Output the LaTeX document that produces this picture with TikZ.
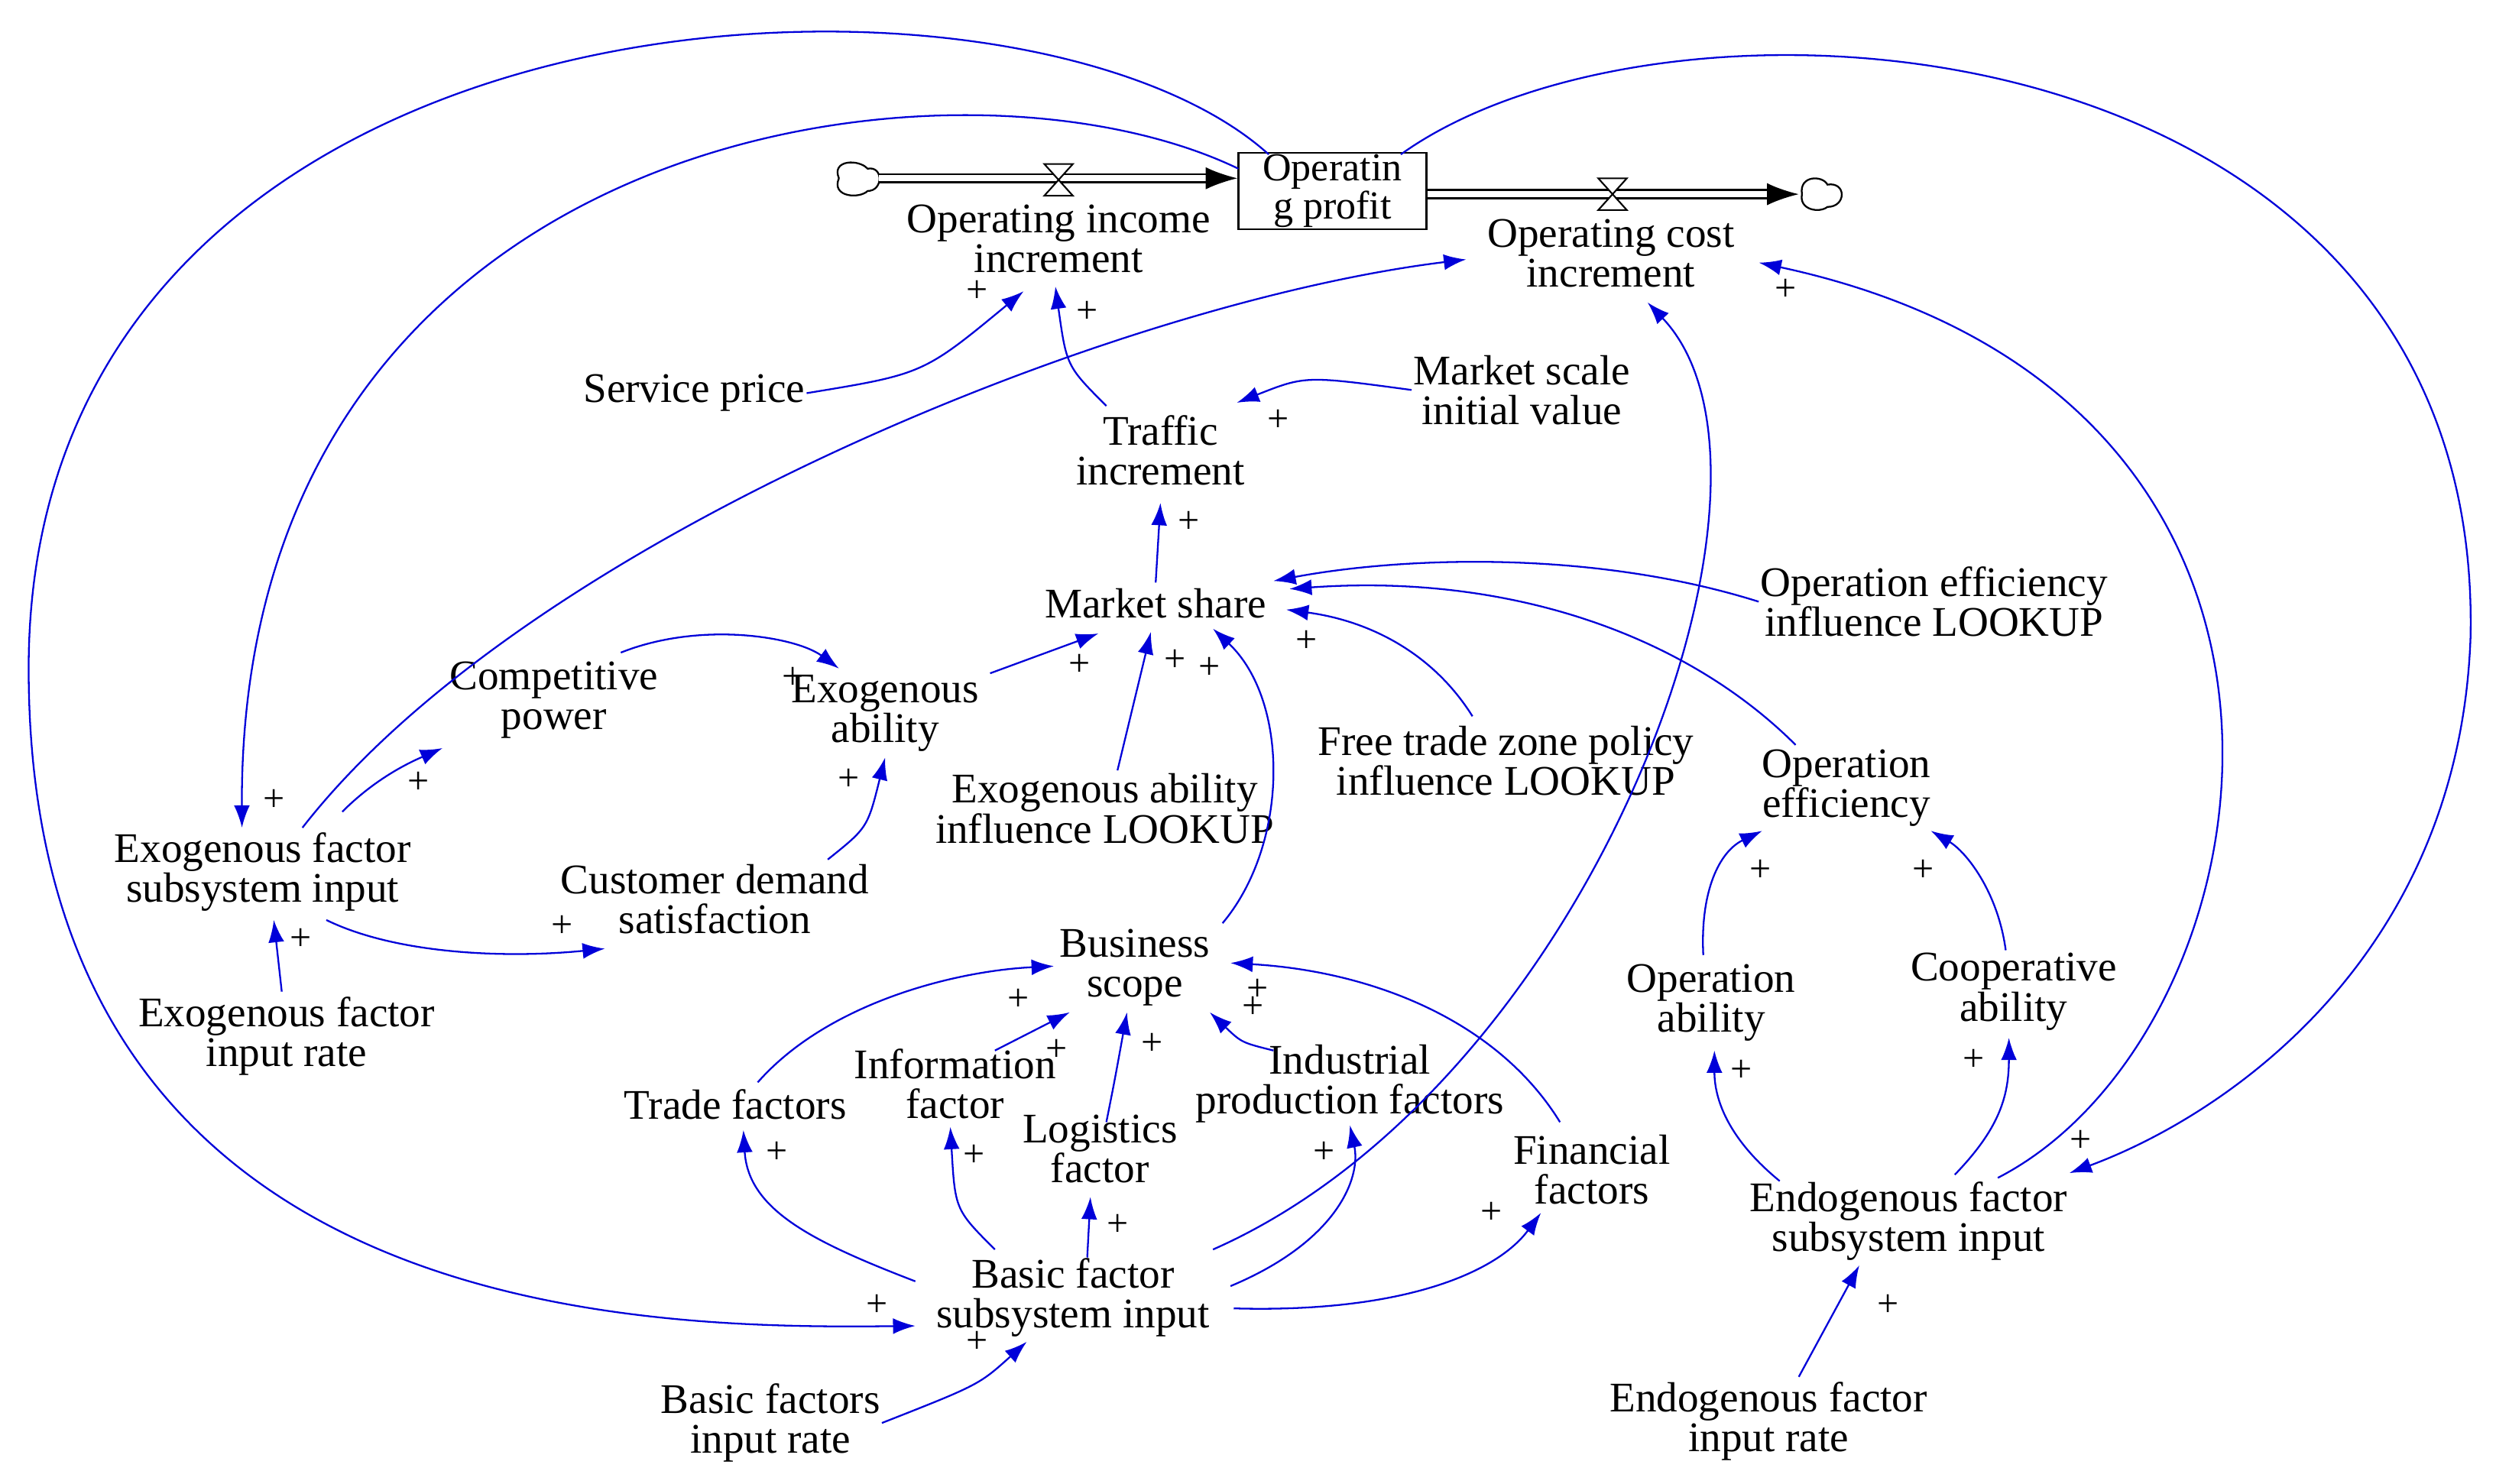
\documentclass[tikz,border=0pt]{standalone}
\usepackage{fontspec}
\setmainfont{Liberation Serif}
\usetikzlibrary{arrows.meta}
\begin{document}
\begin{tikzpicture}[x=1pt,y=-1pt,
 t/.style={align=center,inner sep=1pt,font=\fontsize{26.5}{25}\selectfont},
 ar/.style={draw=blue!85!black,line width=1.1pt,-{Latex[length=14pt,width=10pt]},shorten >=0pt},
 pl/.style={inner sep=0pt,font=\fontsize{24}{24}\selectfont},
 fl/.style={double distance=4pt,line width=1.2pt,-{Latex[length=20pt,width=14pt]}}]
\useasboundingbox (0,0) rectangle (1568,932);
\fill[white] (0,0) rectangle (1568,932);
% stock and flows
\node[draw,line width=1.2pt,minimum width=118pt,minimum height=46pt,align=center,inner sep=1pt,font=\fontsize{25}{22}\selectfont] (op) at (837,120) {Operatin\\g profit};
\draw[line width=1.1pt] (527,112) .. controls (522,100) and (540,100) .. (545,106) .. controls (555,104) and (555,120) .. (545,120) .. controls (540,125) and (522,124) .. (527,112);
\draw[line width=1.1pt] (1132,122) .. controls (1130,110) and (1145,110) .. (1148,116) .. controls (1160,114) and (1160,130) .. (1148,130) .. controls (1143,134) and (1130,132) .. (1132,122);
\coordinate (c2) at (1130,122);
\coordinate (c1e) at (552,112);
\draw[fl] (c1e) -- (op.west|-c1e);
\draw[fl] (op.east|-c2) -- (c2);
\coordinate (v1) at (665,113);
\coordinate (v2) at (1013,122);
\foreach \v in {v1,v2}
  \draw[line width=1pt,fill=white] ([shift={(-9,-10)}]\v) -- ([shift={(9,-10)}]\v) -- ([shift={(-9,10)}]\v) -- ([shift={(9,10)}]\v) -- cycle;
% nodes
\node[t] (inc) at (665,150) {Operating income\\increment};
\node[t] (cost) at (1012,159) {Operating cost\\increment};
\node[t] (svc) at (436,247) {Service price};
\node[t] (msi) at (956,245) {Market scale\\initial value};
\node[t] (tra) at (729,283) {Traffic\\increment};
\node[t] (ms) at (726,379) {Market share};
\node[t] (oel) at (1215,378) {Operation efficiency\\influence LOOKUP};
\node[t] (cp) at (348,440) {Competitive\\power};
\node[t] (exa) at (556,448) {Exogenous\\ability};
\node[t] (ftz) at (946,478) {Free trade zone policy\\influence LOOKUP};
\node[t] (oe) at (1160,495) {Operation\\efficiency};
\node[t] (eal) at (694,508) {Exogenous ability\\influence LOOKUP};
\node[t] (exi) at (165,548) {Exogenous factor\\subsystem input};
\node[t] (cds) at (449,565) {Customer demand\\satisfaction};
\node[t] (bs) at (713,608) {Business\\scope};
\node[t] (oa) at (1075,630) {Operation\\ability};
\node[t] (ca) at (1265,623) {Cooperative\\ability};
\node[t] (exr) at (180,651) {Exogenous factor\\input rate};
\node[t] (trf) at (462,694) {Trade factors};
\node[t] (inf) at (600,681) {Information\\factor};
\node[t] (log) at (691,722) {Logistics\\factor};
\node[t] (ind) at (848,681) {Industrial\\production factors};
\node[t] (fin) at (1000,735) {Financial\\factors};
\node[t] (eni) at (1199,767) {Endogenous factor\\subsystem input};
\node[t] (bsi) at (674,815) {Basic factor\\subsystem input};
\node[t] (bir) at (484,894) {Basic factors\\input rate};
\node[t] (enr) at (1111,893) {Endogenous factor\\input rate};
% helper coordinates
\coordinate (p1) at (797,97);
\coordinate (p2) at (778,106);
\coordinate (p3) at (880,97);
% arrows
\draw[ar] (p1) .. controls (640,-45) and (18,-20) .. (18,420) .. controls (18,830) and (400,835) .. (575,833);
\draw[ar] (p2) .. controls (600,20) and (150,80) .. (152,520);
\draw[ar] (p3) .. controls (1050,-25) and (1560,10) .. (1552,400) .. controls (1545,600) and (1400,700) .. (1300,737);
\draw[ar] (svc.east) .. controls (580,235) .. (643,183);
\draw[ar] (695,255) .. controls (670,230) .. (663,180);
\draw[ar] (msi.west) .. controls (820,236) .. (777,253);
\draw[ar] (726,366) -- (729,316);
\draw[ar] (190,520) .. controls (330,340) and (700,190) .. (921,163);
\draw[ar] (762,785) .. controls (1000,680) and (1140,300) .. (1035,190);
\draw[ar] (1255,740) .. controls (1430,650) and (1500,250) .. (1105,165);
\draw[ar] (oel.west) .. controls (1000,345) and (880,350) .. (800,365);
\draw[ar] (1128,468) .. controls (1060,400) and (950,360) .. (810,370);
\draw[ar] (925,450) .. controls (900,410) and (860,390) .. (808,383);
\draw[ar] (768,580) .. controls (810,530) and (810,440) .. (762,395);
\draw[ar] (702,484) -- (723,397);
\draw[ar] (622,423) -- (690,398);
\draw[ar] (390,410) .. controls (440,390) and (500,400) .. (527,420);
\draw[ar] (215,510) .. controls (235,490) and (255,480) .. (278,470);
\draw[ar] (520,540) .. controls (545,520) .. (556,476);
\draw[ar] (205,578) .. controls (250,600) and (320,602) .. (380,596);
\draw[ar] (177,623) -- (172,578);
\draw[ar] (476,680) .. controls (520,630) and (600,610) .. (662,607);
\draw[ar] (625,660) -- (672,636);
\draw[ar] (695,705) .. controls (700,680) .. (708,636);
\draw[ar] (800,660) .. controls (780,655) .. (760,636);
\draw[ar] (980,705) .. controls (940,640) and (860,610) .. (773,605);
\draw[ar] (575,805) .. controls (510,780) and (470,760) .. (467,710);
\draw[ar] (625,785) .. controls (600,760) .. (597,708);
\draw[ar] (683,790) -- (685,752);
\draw[ar] (773,808) .. controls (840,780) and (855,740) .. (848,707);
\draw[ar] (775,822) .. controls (880,825) and (940,800) .. (968,762);
\draw[ar] (bir.east) .. controls (615,870) .. (645,843);
\draw[ar] (1070,600) .. controls (1068,560) and (1080,535) .. (1107,522);
\draw[ar] (1260,597) .. controls (1255,560) and (1235,535) .. (1213,522);
\draw[ar] (1118,742) .. controls (1085,715) and (1077,690) .. (1077,660);
\draw[ar] (1228,738) .. controls (1255,710) and (1262,690) .. (1262,652);
\draw[ar] (1130,865) -- (1168,795);
% plus signs
\foreach \x/\y in {614/183,683/196,803/264,747/328,1122/182,821/403,760/420,738/415,678/418,498/426,263/492,533/490,353/582,189/590,172/503,640/628,664/660,724/656,787/633,790/622,488/724,612/726,702/770,832/724,937/762,614/843,551/820,1106/547,1208/547,1094/673,1240/666,1186/820,1307/717}
  \node[pl] at (\x,\y) {+};
\end{tikzpicture}
\end{document}
